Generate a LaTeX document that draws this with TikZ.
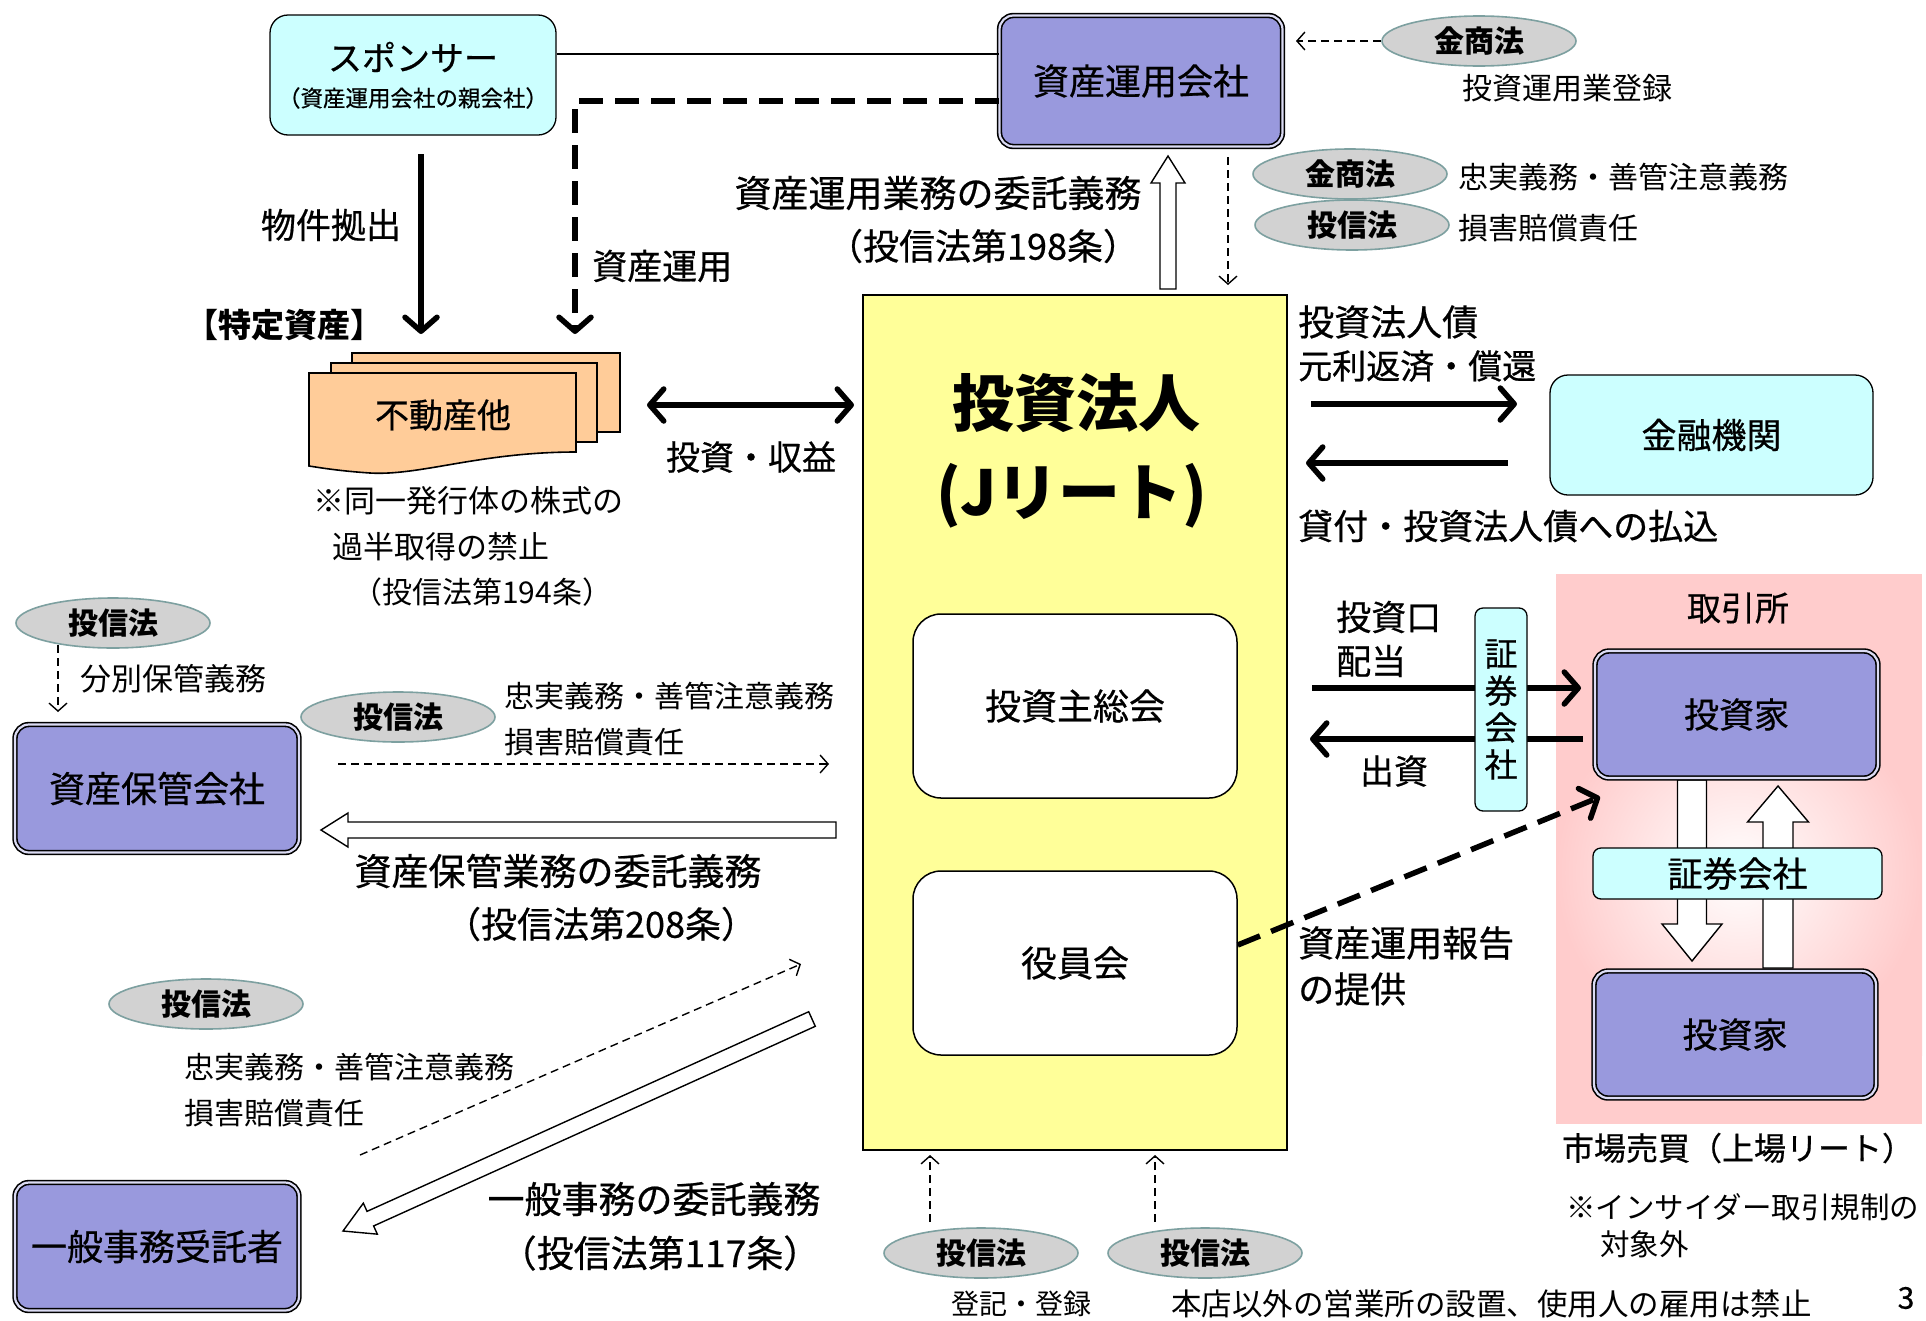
\documentclass[tikz,border=0pt]{standalone}
\usepackage{fontspec}
\setmainfont{Noto Sans CJK JP}
\newfontfamily\medfont{Noto Sans CJK JP}[FakeBold=0.6]
\usetikzlibrary{arrows.meta,calc,shapes.geometric}
\definecolor{purp}{RGB}{153,153,221}
\definecolor{cyanbox}{RGB}{204,255,255}
\definecolor{yel}{RGB}{255,255,153}
\definecolor{org}{RGB}{255,204,153}
\definecolor{pnk}{RGB}{255,204,204}
\definecolor{ellf}{RGB}{210,210,210}
\definecolor{elld}{RGB}{125,160,160}
\newcommand\fs[1]{\fontsize{#1}{#1}\selectfont}
\newcommand\hollow[5]{%
  \coordinate (hA) at #1; \coordinate (hB) at #2;
  \coordinate (hH) at ($(hB)!#5!(hA)$);
  \draw[hollowst] ($(hA)!#3!90:(hB)$) -- ($(hH)!#3!90:(hB)$) -- ($(hH)!#4!90:(hB)$) -- (hB)
     -- ($(hH)!#4!-90:(hB)$) -- ($(hH)!#3!-90:(hB)$) -- ($(hA)!#3!-90:(hB)$) -- cycle;}
\begin{document}
\begin{tikzpicture}[x=1pt,y=-1pt,
  purpbox/.style={draw=black, line width=1.6pt, double=purp!35!white, double distance=2.2pt, fill=purp, rounded corners=14pt, inner sep=0pt, font=\medfont\fs{36}},
  cbox/.style={draw=black, line width=1.3pt, fill=cyanbox, rounded corners=16pt, inner sep=0pt},
  wbox/.style={draw=black, line width=1.5pt, fill=white, rounded corners=28pt, inner sep=0pt, minimum width=324pt, minimum height=184pt, font=\medfont\fs{36}},
  lawst/.style={ellipse, draw=elld, line width=1.6pt, fill=ellf, minimum width=194pt, minimum height=50pt, inner sep=0pt, font=\bfseries\fs{30}},
  txt/.style={inner sep=0pt},
  thinarrow/.style={line width=1.4pt, dash pattern=on 8pt off 5pt, -{Straight Barb[length=8pt,width=18pt]}},
  thickarrow/.style={line width=5.5pt, -{Straight Barb[length=14pt,width=32pt,round]}},
  thickdash/.style={thickarrow, dash pattern=on 24pt off 12pt},
  hollowst/.style={draw=black, line width=1.4pt, fill=white}]

\fill[white] (0,0) rectangle (1926,1320);
\useasboundingbox (0,0) rectangle (1926,1320);

% exchange region
\fill[pnk] (1556,574) rectangle (1922,1124);
\shade[inner color=white, outer color=pnk] (1556,690) rectangle (1922,1055);
\node[txt, font=\medfont\fs{34}] (texch) at (1738,608) {取引所};
\hollow{(1692,780)}{(1692,961)}{14.5pt}{30pt}{37pt}
\hollow{(1778,968)}{(1778,786)}{15pt}{30.5pt}{36pt}
\node[purpbox, minimum width=283pt, minimum height=127pt, font=\medfont\fs{35}] (inv1) at (1736.5,714.5) {投資家};
\node[purpbox, minimum width=282pt, minimum height=127pt, font=\medfont\fs{35}] (inv2) at (1735,1034.5) {投資家};
\node[cbox, rounded corners=8pt, minimum width=289pt, minimum height=51pt, font=\medfont\fs{35}] (sec) at (1737.5,873.5) {証券会社};
\node[txt, font=\medfont\fs{32}] (tmarket) at (1738,1148) {市場売買（上場リート）};
\node[txt, font=\fs{29.5}, anchor=west] (tins1) at (1566,1207) {※インサイダー取引規制の};
\node[txt, font=\fs{29.5}, anchor=west] (tins2) at (1600,1244) {対象外};
\node[txt, font=\medfont\fs{30}] (pageno) at (1906,1298) {3};

% finance
\node[cbox, rounded corners=18pt, minimum width=323pt, minimum height=120pt, font=\medfont\fs{35}] (fin) at (1711.5,435) {金融機関};

% J-REIT
\node[draw=black, line width=1.5pt, fill=yel, minimum width=424pt, minimum height=855pt, inner sep=0pt] (jreit) at (1075,722.5) {};
\node[txt, font=\bfseries\fs{62}] (tj1) at (1076,403) {投資法人};
\node[txt, font=\bfseries\fs{62}] (tj2) at (1072,496) {(Jリート)};
\node[wbox] (soukai) at (1075,706) {投資主総会};
\node[wbox] (yakuin) at (1075,963) {役員会};

% sponsor and asset manager
\node[cbox, rounded corners=18pt, minimum width=286pt, minimum height=120pt] (sponsor) at (413,75) {};
\node[txt, font=\medfont\fs{34}] (tsp1) at (413,57) {スポンサー};
\node[txt, font=\medfont\fs{22.5}] (tsp2) at (413,98) {（資産運用会社の親会社）};
\node[purpbox, minimum width=283pt, minimum height=131pt] (asset) at (1141,81) {資産運用会社};
\draw[line width=1.3pt] ([yshift=21pt]sponsor.east) -- ([yshift=21pt]sponsor.east -| asset.west);
\draw[thickdash] ([yshift=-20pt]asset.west) -| (575,334);
\draw[thickarrow] (421,154) -- (421,334);
\node[txt, font=\medfont\fs{35}] (tbukken) at (331,225) {物件拠出};
\node[txt, font=\medfont\fs{35}, anchor=west] (tunyo) at (592,266) {資産運用};
\node[txt, font=\bfseries\fs{33}] (ttokutei) at (284,325) {【特定資産】};

% laws near asset manager
\node[lawst] (lawTop) at (1479,41) {金商法};
\draw[thinarrow] (lawTop.west) -- (1296,41);
\node[txt, font=\fs{30}] (ttoroku) at (1567,88) {投資運用業登録};
\node[lawst] (lawR1) at (1350,174) {金商法};
\node[lawst] (lawR2) at (1352,225) {投信法};
\node[txt, font=\fs{30}, anchor=west] (tchu1) at (1458,177) {忠実義務・善管注意義務};
\node[txt, font=\fs{30}, anchor=west] (tson1) at (1458,228) {損害賠償責任};
\hollow{(1168,289)}{(1168,156)}{8pt}{17pt}{27pt}
\draw[thinarrow] (1228,157) -- (1228,285);
\node[txt, font=\medfont\fs{37}] (titaku1) at (938,193) {資産運用業務の委託義務};
\node[txt, font=\medfont\fs{36}] (tart198) at (983,246) {（投信法第198条）};

% real estate stack
\filldraw[fill=org, line width=1.6pt] (352,353) rectangle (620,432);
\filldraw[fill=org, line width=1.6pt] (331,363) rectangle (597,442);
\filldraw[fill=org, line width=1.6pt] (309,373) -- (576,373) -- (576,452) .. controls (480,452) and (420,476) .. (370,473) .. controls (340,471) and (322,468) .. (309,466) -- cycle;
\node[txt, font=\medfont\fs{34}] (estate) at (443,415) {不動産他};
\node[txt, font=\fs{31}, anchor=west] (tnote1) at (313,501) {※同一発行体の株式の};
\node[txt, font=\fs{31}, anchor=west] (tnote2) at (332,547) {過半取得の禁止};
\node[txt, font=\fs{30}, anchor=west] (tnote3) at (352,592) {（投信法第194条）};
\draw[line width=5.5pt, arrows={Straight Barb[length=14pt,width=32pt,round]-Straight Barb[length=14pt,width=32pt,round]}] (647,405) -- (854,405);
\node[txt, font=\medfont\fs{34}] (tshueki) at (751,457) {投資・収益};

% finance arrows
\node[txt, font=\medfont\fs{36}, anchor=west] (tbond) at (1298,322) {投資法人債};
\node[txt, font=\medfont\fs{34}, anchor=west] (tshokan) at (1298,366) {元利返済・償還};
\draw[thickarrow] (1311,404) -- (1517,404);
\draw[thickarrow] (1508,463) -- (1306,463);
\node[txt, font=\medfont\fs{35}, anchor=west] (tkashi) at (1298,526) {貸付・投資法人債への払込};

% investor arrows
\node[txt, font=\medfont\fs{35}, anchor=west] (tkuchi) at (1336,617) {投資口};
\node[txt, font=\medfont\fs{35}, anchor=west] (thaito) at (1336,661) {配当};
\draw[thickarrow] (1312,688) -- (1581,688);
\draw[thickarrow] (1583,739) -- (1310,739);
\node[txt, font=\medfont\fs{34}] (tshusshi) at (1394,771) {出資};
\node[cbox, rounded corners=8pt, minimum width=52pt, minimum height=203pt, align=center, font=\medfont\fontsize{33}{37}\selectfont] (secv) at (1501,709.5) {証\\券\\会\\社};
\draw[thickdash] ([yshift=18pt]yakuin.east) -- (1600,797);
\node[txt, font=\medfont\fs{36}, anchor=west] (thokoku1) at (1298,943) {資産運用報告};
\node[txt, font=\medfont\fs{36}, anchor=west] (thokoku2) at (1298,989) {の提供};

% bottom laws
\node[lawst] (lawB1) at (981,1253) {投信法};
\node[lawst] (lawB2) at (1205,1253) {投信法};
\draw[thinarrow] (930,1222) -- (930,1155);
\draw[thinarrow] (1155,1222) -- (1155,1155);
\node[txt, font=\fs{28}] (ttouki) at (1021,1304) {登記・登録};
\node[txt, font=\fs{30.5}, anchor=west] (thonten) at (1171,1304) {本店以外の営業所の設置、使用人の雇用は禁止};

% custody
\node[lawst] (lawL1) at (113,623) {投信法};
\draw[thinarrow] (58,645) -- (58,712);
\node[txt, font=\fs{31}, anchor=west] (tbunbetsu) at (80,679) {分別保管義務};
\node[purpbox, minimum width=284pt, minimum height=128pt] (custody) at (157,788.5) {資産保管会社};
\node[lawst] (lawL2) at (398,717) {投信法};
\node[txt, font=\fs{30}, anchor=west] (tchu2) at (504,696) {忠実義務・善管注意義務};
\node[txt, font=\fs{30}, anchor=west] (tson2) at (504,742) {損害賠償責任};
\draw[thinarrow] (338,764) -- (829,764);
\hollow{(836,830)}{(321,830)}{8pt}{17pt}{27pt}
\node[txt, font=\medfont\fs{37}] (titaku2) at (558,871) {資産保管業務の委託義務};
\node[txt, font=\medfont\fs{36}] (tart208) at (601,924) {（投信法第208条）};

% general administration
\node[lawst] (lawL3) at (206,1004) {投信法};
\node[txt, font=\fs{30}, anchor=west] (tchu3) at (184,1067) {忠実義務・善管注意義務};
\node[txt, font=\fs{30}, anchor=west] (tson3) at (184,1113) {損害賠償責任};
\draw[thinarrow] (360,1155) -- (801,964);
\hollow{(812,1019)}{(343,1231)}{8pt}{17pt}{30pt}
\node[txt, font=\medfont\fs{37}] (titaku3) at (654,1199) {一般事務の委託義務};
\node[txt, font=\medfont\fs{37}] (tart117) at (660,1253) {（投信法第117条）};
\node[purpbox, minimum width=284pt, minimum height=128pt] (general) at (157,1246.5) {一般事務受託者};
\end{tikzpicture}
\end{document}
